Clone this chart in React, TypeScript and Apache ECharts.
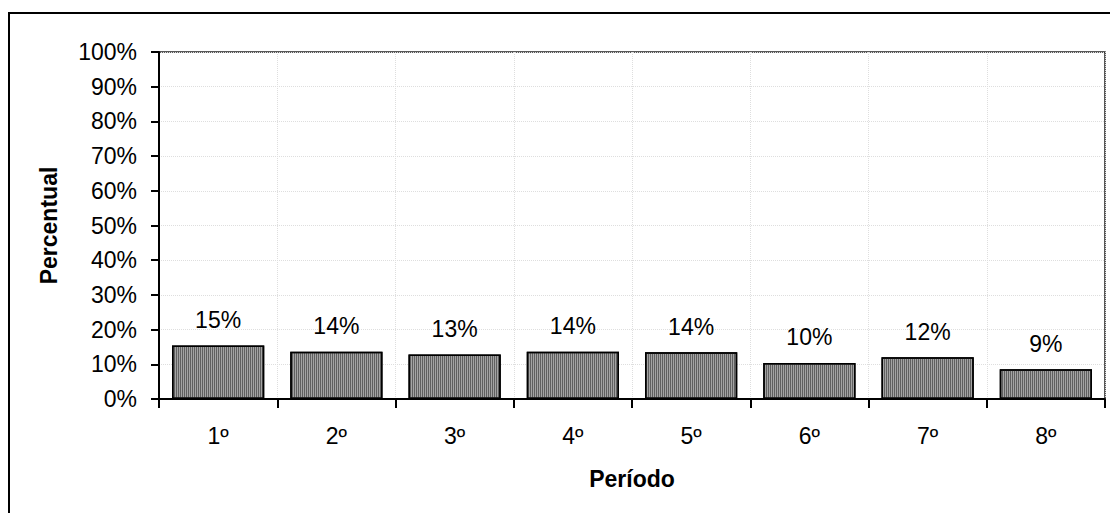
import React, { useEffect, useRef } from "react";
import * as echarts from "echarts";

const categories = ["1º", "2º", "3º", "4º", "5º", "6º", "7º", "8º"];
const values = [15.4, 13.6, 12.8, 13.6, 13.5, 10.4, 12.0, 8.6];
const yTicks = { min: 0, max: 100, interval: 10 };
const yTitle = "Percentual";
const xTitle = "Período";

const FONT = "'Liberation Sans', Arial, sans-serif";

export default function App() {
  const ref = useRef<HTMLDivElement>(null);
  useEffect(() => {
    document.body.style.margin = "0";
    const chart = echarts.init(ref.current!, null, { renderer: "svg" });
    chart.setOption({
      animation: false,
      backgroundColor: "#fff",
      textStyle: { fontFamily: FONT },
      grid: {
        left: 159,
        right: 5,
        top: 52,
        bottom: 114,
        show: true,
        borderColor: "#222",
        borderWidth: 1.5,
        containLabel: false,
      },
      graphic: [
        {
          type: "rect",
          shape: { x: 9, y: 13, width: 2000, height: 2000 },
          style: { fill: "none", stroke: "#000", lineWidth: 2 },
          silent: true,
        },
      ],
      xAxis: {
        type: "category",
        data: categories,
        name: xTitle,
        nameLocation: "middle",
        nameGap: 68,
        nameTextStyle: { fontSize: 23, fontWeight: "bold", color: "#000", fontFamily: FONT },
        axisLine: { show: true, lineStyle: { color: "#000", width: 2 } },
        axisTick: { show: true, length: 9, lineStyle: { color: "#000", width: 2 } },
        axisLabel: { fontSize: 23, color: "#000", margin: 25, fontFamily: FONT },
        splitLine: { show: true, lineStyle: { color: "#dedede", type: "dotted", width: 1 } },
      },
      yAxis: {
        type: "value",
        min: yTicks.min,
        max: yTicks.max,
        interval: yTicks.interval,
        name: yTitle,
        nameLocation: "middle",
        nameGap: 99,
        nameRotate: 90,
        nameTextStyle: { fontSize: 23, fontWeight: "bold", color: "#000", fontFamily: FONT },
        axisLine: { show: true, lineStyle: { color: "#000", width: 2 } },
        axisTick: { show: true, length: 8, lineStyle: { color: "#000", width: 2 } },
        axisLabel: { fontSize: 23, color: "#000", margin: 22, formatter: "{value}%", fontFamily: FONT },
        splitLine: { show: true, lineStyle: { color: "#dedede", type: "dotted", width: 1 } },
      },
      series: [
        {
          type: "bar",
          data: values,
          barCategoryGap: "22%",
          itemStyle: {
            color: "#a4a4a4",
            borderColor: "#000",
            borderWidth: 1.5,
            decal: {
              symbol: "rect",
              symbolSize: 1,
              dashArrayX: [1, 1],
              dashArrayY: [10, 0],
              rotation: 0,
              color: "rgba(60,60,60,0.65)",
            },
          },
          label: {
            show: true,
            position: "top",
            distance: 14,
            fontSize: 23,
            color: "#000",
            fontFamily: FONT,
            formatter: (p: any) => Math.round(p.value) + "%",
          },
        },
      ],
    });
    return () => chart.dispose();
  }, []);
  return <div ref={ref} style={{ width: 1110, height: 513 }} />;
}
